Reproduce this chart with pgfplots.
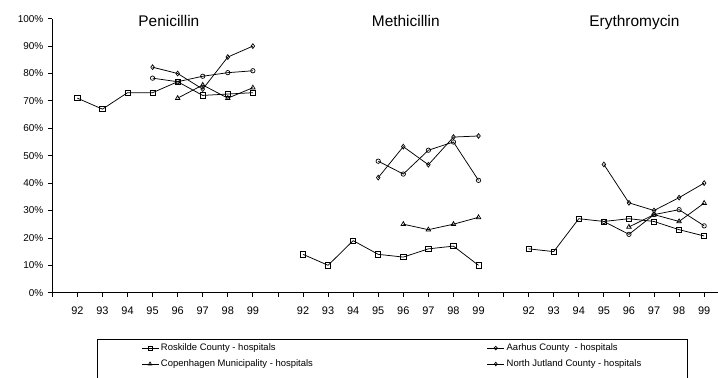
\documentclass[border=0pt]{standalone}
\usepackage{pgfplots}
\pgfplotsset{compat=1.18}
\usepackage{fontspec}
\setmainfont{Liberation Sans}
\pgfplotsset{
 ser/.style={black, line width=0.75bp, mark options={fill=white, solid, line width=0.7bp}},
 rosk/.style={ser, mark=square, mark size=2.6bp},
 aar/.style={ser, mark=o, mark size=2.2bp},
 cph/.style={ser, mark=triangle, mark size=2.6bp},
 nj/.style={ser, mark=diamond, mark size=2.4bp},
}
\begin{document}
\begin{tikzpicture}
\begin{axis}[
 scale only axis, width=666.9bp, height=274bp,
 xmin=0, xmax=26.6, ymin=0, ymax=100, clip=false,
 axis x line=bottom, axis y line=left,
 axis line style={-, line width=0.8bp, black},
 tick align=outside, major tick length=4bp,
 tick style={black, line width=0.8bp},
 xtick={0,...,26},
 xticklabels={,92,93,94,95,96,97,98,99,,92,93,94,95,96,97,98,99,,92,93,94,95,96,97,98,99},
 ytick={0,10,...,100},
 yticklabels={0\%,10\%,20\%,30\%,40\%,50\%,60\%,70\%,80\%,90\%,100\%},
 x tick label style={font=\fontsize{11}{13}\selectfont, yshift=-7bp},
 y tick label style={font=\fontsize{10}{12}\selectfont, xshift=-1.5bp},
 legend columns=2,
 legend style={at={(0.067,-0.17)}, anchor=north west, draw=black,
   font=\fontsize{9.5}{11}\selectfont, inner xsep=44bp, inner ysep=2.5bp,
   /tikz/every odd column/.append style={column sep=0pt},
   row sep=3.5bp},
 legend cell align=left,
]
% Penicillin
\addplot[rosk, forget plot] coordinates {(1,71) (2,67) (3,73) (4,73) (5,77) (6,72) (7,72.5) (8,73)};
\addplot[aar, forget plot] coordinates {(4,78.3) (5,77) (6,79) (7,80.3) (8,81)};
\addplot[cph, forget plot] coordinates {(5,71) (6,75.8) (7,71) (8,74.8)};
\addplot[nj, forget plot] coordinates {(4,82.3) (5,80) (6,74.3) (7,86) (8,90)};
% Methicillin
\addplot[rosk, forget plot] coordinates {(10,14) (11,10) (12,19) (13,14) (14,13) (15,16) (16,17) (17,10)};
\addplot[aar, forget plot] coordinates {(13,48) (14,43.3) (15,52) (16,55) (17,41)};
\addplot[cph, forget plot] coordinates {(14,25) (15,23) (16,25) (17,27.5)};
\addplot[nj, forget plot] coordinates {(13,42) (14,53.3) (15,46.7) (16,56.8) (17,57.2)};
% Erythromycin
\addplot[rosk, forget plot] coordinates {(19,16) (20,15) (21,27) (22,26) (23,27) (24,26) (25,23) (26,20.7)};
\addplot[aar, forget plot] coordinates {(22,26) (23,21.3) (24,28.5) (25,30.3) (26,24.4)};
\addplot[cph, forget plot] coordinates {(23,24) (24,28.5) (25,26) (26,32.7)};
\addplot[nj, forget plot] coordinates {(22,46.8) (23,32.8) (24,30) (25,34.7) (26,40)};
% legend
\addlegendimage{rosk, mark size=2bp}
\addlegendentry{\makebox[324bp][l]{Roskilde County - hospitals}}
\addlegendimage{aar, mark size=1.8bp}
\addlegendentry{\makebox[135bp][l]{Aarhus County\ \ - hospitals}}
\addlegendimage{cph, mark size=2bp}
\addlegendentry{Copenhagen Municipality - hospitals}
\addlegendimage{nj, mark size=1.8bp}
\addlegendentry{North Jutland County - hospitals}
\addlegendimage{empty legend}
\addlegendentry{}
\addlegendimage{empty legend}
\addlegendentry{}
\node[font=\fontsize{15.5}{18}\selectfont, anchor=base] at (axis cs:4.65,97.3) {Penicillin};
\node[font=\fontsize{15.5}{18}\selectfont, anchor=base] at (axis cs:14.1,97.3) {Methicillin};
\node[font=\fontsize{15.5}{18}\selectfont, anchor=base] at (axis cs:23.22,97.3) {Erythromycin};
\end{axis}
\pgfresetboundingbox
\path[use as bounding box] (-52.3bp,-85.3bp) rectangle (665.7bp,292.7bp);
\end{tikzpicture}
\end{document}
